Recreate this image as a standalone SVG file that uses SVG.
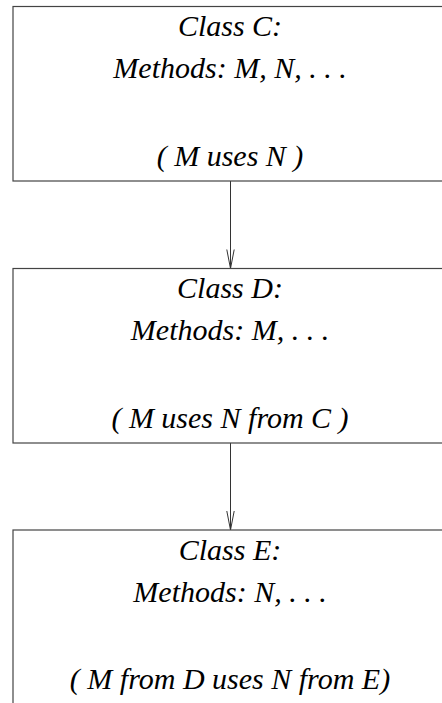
<svg xmlns="http://www.w3.org/2000/svg" width="442" height="703" viewBox="0 0 442 703">
<defs>
<style>
.box{fill:#fff;stroke:#444;stroke-width:1.2}
.t{font-size:30px;fill:#000;text-anchor:middle}
.edge{stroke:#333;stroke-width:1;fill:none}
</style>
<marker id="arr" markerWidth="22" markerHeight="10" refX="20" refY="5" orient="auto" markerUnits="userSpaceOnUse" viewBox="0 0 22 10">
<path d="M1,1.3 L20,5 L1,8.7" fill="none" stroke="#333" stroke-width="1"/>
</marker>
</defs>
<rect width="442" height="703" fill="#fff"/>
<g id="connectors">
<line class="edge" x1="230.5" y1="181" x2="230.5" y2="268.5" marker-end="url(#arr)"/>
<line class="edge" x1="230.5" y1="443" x2="230.5" y2="530" marker-end="url(#arr)"/>
</g>
<g font-family="Liberation Serif, serif" font-style="italic">
<g id="classC">
<rect class="box" x="13" y="6.5" width="440" height="174.5"/>
<text class="t" x="230" y="35.5">Class C:</text>
<text class="t" x="230" y="77.5">Methods: M, N, . . .</text>
<text class="t" x="230" y="165.5">( M uses N )</text>
</g>
<g id="classD">
<rect class="box" x="13" y="268.5" width="440" height="174.5"/>
<text class="t" x="230" y="297.5">Class D:</text>
<text class="t" x="230" y="339.5">Methods: M, . . .</text>
<text class="t" x="230" y="427.5">( M uses N from C )</text>
</g>
<g id="classE">
<rect class="box" x="13" y="530" width="440" height="200"/>
<text class="t" x="230" y="559.5">Class E:</text>
<text class="t" x="230" y="601.5">Methods: N, . . .</text>
<text class="t" x="230" y="688.5">( M from D uses N from E)</text>
</g>
</g>
</svg>
